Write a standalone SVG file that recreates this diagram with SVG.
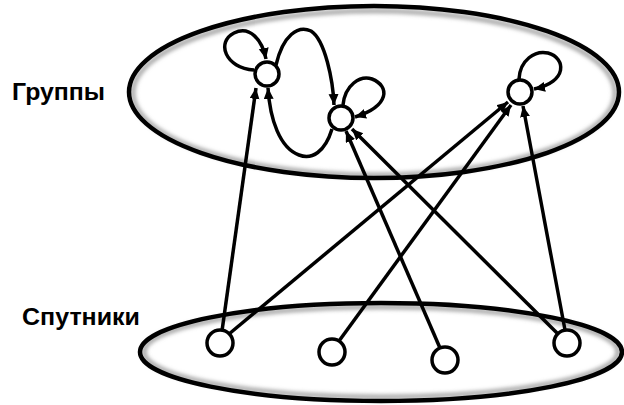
<svg xmlns="http://www.w3.org/2000/svg" width="624" height="405" viewBox="0 0 624 405">
<style>
.lbl{font-family:"Liberation Sans","DejaVu Sans",sans-serif;font-weight:bold;font-size:23px;fill:#000}
.set{fill:#fff;stroke:none}
.shade{fill:none;stroke:#999;stroke-width:4}
.rim{fill:none;stroke:#000;stroke-width:4.5}
.node{fill:#fff;stroke:#000;stroke-width:3.5}
.edge{fill:none;stroke:#000;stroke-width:3.5}
</style>
<defs>
<marker id="arr" markerUnits="userSpaceOnUse" markerWidth="13" markerHeight="11" refX="11" refY="5" orient="auto">
<path d="M0,0 L11,5 L0,10 z" fill="#000"/>
</marker>
<filter id="blur" x="-10%" y="-20%" width="120%" height="140%">
<feGaussianBlur stdDeviation="2"/>
</filter>
</defs>
<rect width="624" height="405" fill="#fff"/>
<g id="groups-set">
<ellipse class="set" cx="374" cy="92" rx="245" ry="86"/>
<ellipse class="shade" cx="374" cy="93" rx="241" ry="82" filter="url(#blur)"/>
<ellipse class="rim" cx="374" cy="92" rx="245" ry="86"/>
</g>
<g id="satellites-set">
<ellipse class="set" cx="381" cy="352" rx="241" ry="49"/>
<ellipse class="shade" cx="381" cy="352" rx="237" ry="45" filter="url(#blur)"/>
<ellipse class="rim" cx="381" cy="352" rx="241" ry="49"/>
</g>
<text class="lbl" x="12" y="100" textLength="93" lengthAdjust="spacingAndGlyphs">Группы</text>
<text class="lbl" x="22" y="325" textLength="118" lengthAdjust="spacingAndGlyphs">Спутники</text>
<g id="connectors" marker-end="url(#arr)">
<path class="edge" d="M222,331 L256,88"/>
<path class="edge" d="M229,334 L508,102"/>
<path class="edge" d="M339,341 L511,105"/>
<path class="edge" d="M440,348 L346,131"/>
<path class="edge" d="M558,334 L352,129"/>
<path class="edge" d="M565,330 L523,106"/>
<path class="edge" d="M254,70 C225,68 216,42 234,33 C250,25 262,40 266,59"/>
<path class="edge" d="M276,65 C283,35 298,25 311,31 C325,40 333,80 334,105"/>
<path class="edge" d="M332,129 C325,152 312,160 299,155 C280,148 270,120 268,88"/>
<path class="edge" d="M343,105 C345,85 360,75 372,79 C390,86 390,106 355,117"/>
<path class="edge" d="M519,79 C520,60 535,50 548,53 C566,58 568,82 534,89"/>
</g>
<g id="node-g1"><circle class="node" cx="267" cy="74" r="12"/></g>
<g id="node-g2"><circle class="node" cx="341" cy="118" r="12"/></g>
<g id="node-g3"><circle class="node" cx="520" cy="92" r="12"/></g>
<g id="node-s1"><circle class="node" cx="220" cy="343" r="13"/></g>
<g id="node-s2"><circle class="node" cx="332" cy="352" r="13"/></g>
<g id="node-s3"><circle class="node" cx="445" cy="360" r="13"/></g>
<g id="node-s4"><circle class="node" cx="567" cy="343" r="13"/></g>
</svg>
